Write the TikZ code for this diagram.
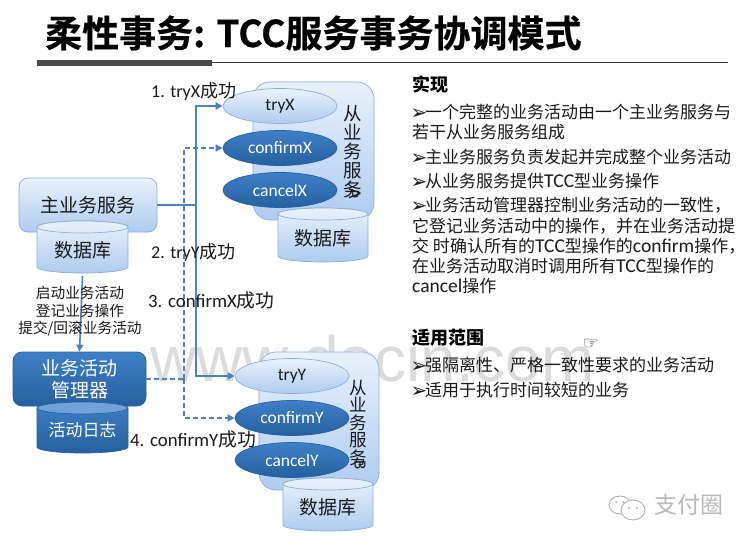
\documentclass[tikz,border=0pt]{standalone}
\usepackage{fontspec}
\setmainfont{Noto Sans CJK SC}
\newfontfamily\lat{Carlito}
\newfontfamily\latbig[Scale=1.15]{Carlito}
\newfontfamily\djv{DejaVu Sans}
\newfontfamily\wmfont{Liberation Sans}
\newfontfamily\titlefont[UprightFont={* Bold},UprightFeatures={FakeBold=0.6}]{Noto Sans CJK SC}
\usetikzlibrary{shapes.geometric,arrows.meta}
\definecolor{blueLine}{HTML}{4F81BD}
\definecolor{lightTop}{HTML}{EAF1FC}
\definecolor{lightBot}{HTML}{AECBF0}
\definecolor{lightEdge}{HTML}{8DADD9}
\definecolor{darkTop}{HTML}{3F7FC6}
\definecolor{darkBot}{HTML}{26609F}
\definecolor{inkText}{HTML}{1A1A1A}
\newcommand{\fs}[1]{\fontsize{#1}{#1}\selectfont}
\newcommand{\la}[1]{{\lat #1}}
\newcommand{\lb}[1]{{\latbig #1}}
\newcommand{\bul}{\makebox[13pt][l]{\djv\fontsize{20}{20}\selectfont\raisebox{-1pt}{\kern-1.5pt ➢}}}
\tikzset{
  x=1pt,y=-1pt,
  lightfill/.style={top color=lightTop,bottom color=lightBot,draw=lightEdge,line width=.7pt},
  darkfill/.style={top color=darkTop,bottom color=darkBot,draw=darkBot,line width=.7pt},
  svcbox/.style={lightfill,rectangle,rounded corners=9pt,inner sep=0pt,text=inkText},
  holder/.style={lightfill,rectangle,rounded corners=17pt,inner sep=0pt},
  opLight/.style={ellipse,inner sep=0pt,minimum width=114pt,minimum height=35pt,lightfill,text=inkText,font=\lat\fs{17.5}},
  opDark/.style={ellipse,inner sep=0pt,minimum width=114pt,minimum height=35pt,darkfill,text=white,font=\lat\fs{17.5}},
  solidconn/.style={draw=blueLine,line width=1.8pt},
  dashconn/.style={draw=blueLine,line width=1.6pt,dash pattern=on 5pt off 3pt},
  tip/.style={-{Triangle[length=7pt,width=7pt]}},
  steplabel/.style={font=\fs{18},text=inkText,inner sep=0pt},
  midlabel/.style={font=\fs{14.7},text=inkText,inner sep=0pt},
  bodytext/.style={anchor=west,font=\fs{17},text=inkText,inner sep=0pt},
  headtext/.style={anchor=west,font=\bfseries\fs{18},text=black,inner sep=0pt},
  vtext/.style={align=center,inner sep=0pt,text=inkText},
}
% name, x1, y1, x2, y2, body style, top-cap style, text options, text
\newcommand{\dbcyl}[9]{%
  \path[#6] (#2,#3+6) -- (#2,#5-6) arc[x radius=(#4-#2)/2,y radius=6,start angle=180,end angle=0] -- (#4,#3+6) arc[x radius=(#4-#2)/2,y radius=6,start angle=0,end angle=-180];
  \path[#7] ({(#2+#4)/2},#3+6) ellipse[x radius=(#4-#2)/2,y radius=6];
  \node[inner sep=0pt,minimum width=#4pt-#2pt,minimum height=#5pt-#3pt,#8] (#1) at ({(#2+#4)/2},{(#3+#5)/2+3}) {#9};
}
\begin{document}
\begin{tikzpicture}
\useasboundingbox[fill=white] (0,0) rectangle (750,543);

% watermark
\node[anchor=base west,inner sep=0pt,text=black!14,font=\wmfont\fs{64}] (wm) at (150,381) {www.docin.com};

% title
\node[anchor=west,inner sep=0pt,font=\titlefont\fs{37},text=black] (title) at (45,33) {柔性事务: TCC服务事务协调模式};
\fill[black!72] (37,60) rectangle (212,66);
\draw[black!80,line width=1.2pt] (212,62.5) -- (728,62.5);

% containers
\node[holder,minimum width=121pt,minimum height=138pt] (slaveA) at (313.5,151) {};
\node[holder,minimum width=120pt,minimum height=138pt] (slaveB) at (319,421) {};

% main service & database
\node[svcbox,minimum width=138pt,minimum height=54pt] (main) at (88,205) {};
\node[inner sep=0pt,font=\fs{19},text=inkText] (mainText) at (88,205) {主业务服务};
\dbcyl{dbMain}{37}{221}{128}{273}{lightfill}{top color=lightTop,bottom color=lightTop!80!lightBot,draw=lightEdge,line width=.7pt}{font=\fs{19},text=inkText}{数据库}

% manager & log
\node[rectangle,rounded corners=9pt,inner sep=0pt,darkfill,text=white,minimum width=133pt,minimum height=54pt,align=center,font=\fs{19}] (mgr) at (79.5,379) {业务活动\\[3pt]管理器};
\dbcyl{dbLog}{37}{402}{128}{453}{darkfill}{fill=darkTop!55!lightBot,draw=darkBot,line width=.7pt}{font=\fs{17},text=white}{活动日志}

% operations A
\node[opLight] (tryX) at (280,106) {tryX};
\node[opDark] (confirmX) at (280,148) {confirmX};
\node[opDark] (cancelX) at (280,190) {cancelX};
\dbcyl{dbA}{278}{208}{368}{262}{lightfill}{top color=lightTop,bottom color=lightTop!80!lightBot,draw=lightEdge,line width=.7pt}{font=\fs{19},text=inkText}{数据库}
\node[vtext,font=\fs{18.5}] (labA) at (353,152) {从\\[.5pt]业\\[.5pt]务\\[.5pt]服\\[.5pt]务};
\node[rotate=-90,inner sep=0pt,font=\lat\fs{18},text=inkText] (labAx) at (355,194) {A};

% operations B
\node[opLight] (tryY) at (292,376) {tryY};
\node[opDark] (confirmY) at (292,418) {confirmY};
\node[opDark] (cancelY) at (292,460) {cancelY};
\dbcyl{dbB}{283}{478}{373}{531}{lightfill}{top color=lightTop,bottom color=lightTop!80!lightBot,draw=lightEdge,line width=.7pt}{font=\fs{19},text=inkText}{数据库}
\node[vtext,font=\fs{17.5}] (labB) at (358,423) {从\\业\\务\\服\\务};
\node[rotate=-90,inner sep=0pt,font=\lat\fs{17},text=inkText] (labBx) at (360,465) {B};

% connectors
\coordinate (busSolid) at (196,205);
\coordinate (busDash) at (184,379);
\draw[solidconn] (main.east) -- (busSolid);
\draw[solidconn,tip] (busSolid) |- (tryX.west);
\draw[solidconn,tip] (busSolid) |- (tryY.west);
\draw[dashconn] (mgr.east) -- (busDash);
\draw[dashconn,tip] (busDash) |- (confirmX.west);
\draw[dashconn,tip] (busDash) |- (confirmY.west);
\draw[solidconn,tip,line width=1.6pt] (dbMain.south) -- (mgr.north);

% connector labels
\node[steplabel,anchor=west] (s1) at (151,91) {\la{1. tryX}成功};
\node[steplabel,anchor=west] (s2) at (151,252) {\la{2. tryY}成功};
\node[steplabel,anchor=west,font=\fs{18.8}] (s3) at (148,300) {\la{3. confirmX}成功};
\node[steplabel,anchor=west,font=\fs{18.8}] (s4) at (130,439) {\la{4. confirmY}成功};
\node[midlabel] (m1) at (80,293) {启动业务活动};
\node[midlabel] (m2) at (80,311) {登记业务操作};
\node[midlabel] (m3) at (80,329) {提交/回滚业务活动};

% right column
\node[headtext] (h1) at (412,85) {实现};
\node[bodytext] (t1) at (412,112) {\bul 一个完整的业务活动由一个主业务服务与};
\node[bodytext] (t2) at (412,132) {若干从业务服务组成};
\node[bodytext] (t3) at (412,157) {\bul 主业务服务负责发起并完成整个业务活动};
\node[bodytext] (t4) at (412,181) {\bul 从业务服务提供\lb{TCC}型业务操作};
\node[bodytext] (t5) at (412,205) {\bul 业务活动管理器控制业务活动的一致性，};
\node[bodytext] (t6) at (412,226) {它登记业务活动中的操作，并在业务活动提};
\node[bodytext] (t7) at (412,246) {交 时确认所有的\lb{TCC}型操作的\lb{confirm}操作，};
\node[bodytext] (t8) at (412,266) {在业务活动取消时调用所有\lb{TCC}型操作的};
\node[bodytext] (t9) at (412,286) {\lb{cancel}操作};
\node[headtext] (h2) at (412,338) {适用范围};
\node[bodytext] (t10) at (412,365) {\bul 强隔离性、严格一致性要求的业务活动};
\node[bodytext] (t11) at (412,390) {\bul 适用于执行时间较短的业务};

% pointer icon
\node[inner sep=0pt,font=\djv\fs{18},text=black!80] (hand) at (591,344) {☞};

% logo
\draw[black!30,line width=.9pt,fill=white] (620,505) ellipse[x radius=11,y radius=9];
\draw[black!30,line width=.9pt,fill=white] (633,510) ellipse[x radius=12,y radius=10];
\fill[black!35] (616,502) circle (1) (623,502) circle (1) (629,508) circle (1) (637,508) circle (1);
\node[anchor=west,inner sep=0pt,font=\fs{23},text=black!28] (brand) at (654,505) {支付圈};
\end{tikzpicture}
\end{document}
